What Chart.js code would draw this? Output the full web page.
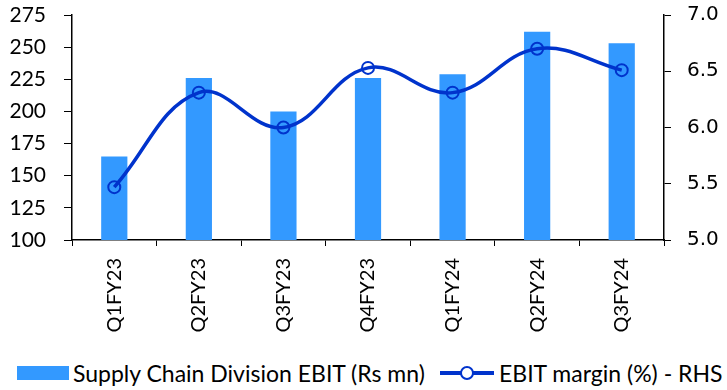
<!DOCTYPE html>
<html>
<head>
<meta charset="utf-8">
<script src="https://cdn.jsdelivr.net/npm/chart.js@4"></script>
<style>
  body { margin: 0; background: #fff; }
  #wrap { position: relative; width: 727px; height: 390px; }
  #legend span { position: absolute; }
  .txt { font-family: Lato, sans-serif; font-size: 23px; line-height: 26px; top: 360px; color: #000; white-space: nowrap; }
  .swatch { left: 17px; top: 366px; width: 52px; height: 14px; background: #3399FF; }
  .ln { left: 440px; top: 371px; width: 54px; height: 4px; background: #0033CC; }
  .dot { left: 460px; top: 366px; width: 10px; height: 10px; border: 2px solid #0033CC; border-radius: 50%; background: #fff; }
</style>
</head>
<body>
<div id="wrap">
  <canvas id="myChart" width="727" height="350"></canvas>
  <div id="legend">
    <span class="swatch"></span><span class="txt" style="left:73px">Supply Chain Division EBIT (Rs mn)</span>
    <span class="ln"></span><span class="dot"></span><span class="txt" style="left:499px">EBIT margin (%) - RHS</span>
  </div>
</div>
<script>
var quarters = ["Q1FY23", "Q2FY23", "Q3FY23", "Q4FY23", "Q1FY24", "Q2FY24", "Q3FY24"];
var ebit = [165, 226, 200, 226, 229, 262, 253];
var margin = [5.47, 6.31, 6.00, 6.53, 6.31, 6.70, 6.51];
var leftTicks = [100, 125, 150, 175, 200, 225, 250, 275];
var rightTicks = [5.0, 5.5, 6.0, 6.5, 7.0];

// keep the plot edge where the reference has it, not pushed by label height
function noPad(s) { s.paddingTop = 0; s.paddingBottom = 0; }

var ctx = document.getElementById("myChart").getContext("2d");
var myChart = new Chart(ctx, {
  data: {
    labels: quarters,
    datasets: [
      {
        type: "line",
        label: "EBIT margin (%) - RHS",
        data: margin,
        yAxisID: "y1",
        borderColor: "#0033CC",
        borderWidth: 3.5,
        tension: 0.4,
        pointRadius: 6,
        pointBorderWidth: 2,
        pointBorderColor: "#0033CC",
        pointBackgroundColor: "rgba(0,0,0,0)",
        order: 0
      },
      {
        type: "bar",
        label: "Supply Chain Division EBIT (Rs mn)",
        data: ebit,
        yAxisID: "y",
        backgroundColor: "#3399FF",
        barPercentage: 0.31,
        categoryPercentage: 1,
        order: 1
      }
    ]
  },
  options: {
    responsive: false,
    animation: false,
    layout: { padding: { top: 15, left: 0, right: 0, bottom: 0 } },
    plugins: { legend: { display: false }, tooltip: { enabled: false } },
    scales: {
      x: {
        offset: true,
        grid: { offset: true, drawOnChartArea: false, color: "#000", tickLength: 6 },
        border: { color: "#000", width: 1.5 },
        ticks: {
          color: "#000", minRotation: 90, maxRotation: 90, padding: 12,
          font: { family: "Lato", size: 20 }
        },
        afterFit: function (s) { s.height = 110; s.paddingLeft = 0; s.paddingRight = 0; }
      },
      y: {
        position: "left",
        min: 100, max: 275,
        afterBuildTicks: function (s) { s.ticks = leftTicks.map(function (v) { return { value: v }; }); },
        grid: { drawOnChartArea: false, color: "#000", tickLength: 8 },
        border: { color: "#000", width: 1.5 },
        ticks: { color: "#000", padding: 18, font: { family: "Lato", size: 21 } },
        afterFit: function (s) { s.width = 72; noPad(s); }
      },
      y1: {
        position: "right",
        min: 5, max: 7,
        afterBuildTicks: function (s) { s.ticks = rightTicks.map(function (v) { return { value: v }; }); },
        grid: { drawOnChartArea: false, color: "#000", tickLength: 7 },
        border: { color: "#000", width: 1.5 },
        ticks: {
          color: "#000", padding: 16, font: { family: "DejaVu Sans", size: 20 },
          callback: function (v) { return Number(v).toFixed(1); }
        },
        afterFit: function (s) { s.width = 63; noPad(s); }
      }
    }
  }
});
</script>
</body>
</html>
